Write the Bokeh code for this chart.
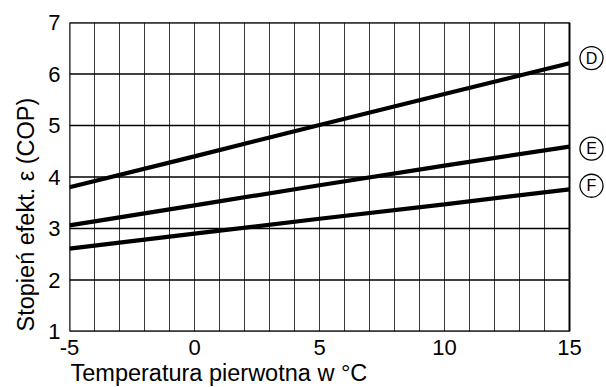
from bokeh.plotting import figure
from bokeh.models import Range1d, FixedTicker, Title
from bokeh.embed import file_html
from bokeh.resources import INLINE
from bokeh.core.properties import value

# ---- data ----
temps = [-5, 0, 5, 10, 15]
cop_D = [3.80, 4.40, 5.01, 5.61, 6.21]
cop_E = [3.06, 3.45, 3.84, 4.22, 4.59]
cop_F = [2.61, 2.90, 3.19, 3.47, 3.76]
curve_names = ["D", "E", "F"]
curve_label_y = [6.31, 4.55, 3.83]
x_ticks = [-5, 0, 5, 10, 15]
y_ticks = [1, 2, 3, 4, 5, 6, 7]
x_label = "Temperatura pierwotna w °C"
y_label = "Stopień efekt. ε (COP)"

X_MIN, X_MAX = -5, 15
Y_MIN, Y_MAX = 1, 7
FONT = "Liberation Sans"

p = figure(width=606, height=387, output_backend="svg", toolbar_location=None,
           x_range=Range1d(X_MIN, 16.48), y_range=Range1d(Y_MIN, Y_MAX),
           min_border_left=69, min_border_right=0, min_border_top=22,
           min_border_bottom=56)
p.outline_line_color = None
p.xgrid.visible = False
p.ygrid.visible = False
p.background_fill_color = "white"
p.border_fill_color = "white"

for ax, ticks in ((p.xaxis[0], x_ticks), (p.yaxis[0], y_ticks)):
    ax.ticker = FixedTicker(ticks=ticks)
    ax.axis_line_color = None
    ax.major_tick_line_color = None
    ax.minor_tick_line_color = None
    ax.major_tick_out = 0
    ax.major_tick_in = 0
    ax.major_label_text_font = FONT
    ax.major_label_text_font_size = "22px"
    ax.major_label_text_color = "black"

p.xaxis.major_label_overrides = {t: str(t) for t in x_ticks}
p.xaxis.major_label_standoff = 8
p.yaxis.major_label_standoff = 9

# axis titles as side-panel titles (left aligned along the axis)
p.add_layout(Title(text=x_label, align="left", text_font=FONT,
                   text_font_size="23.5px", text_font_style="normal",
                   text_color="black", standoff=0, offset=1), "below")
p.add_layout(Title(text=y_label, align="left", text_font=FONT,
                   text_font_size="23.5px", text_font_style="normal",
                   text_color="black", standoff=13, offset=0), "left")

# grid
vx = list(range(X_MIN, X_MAX + 1))
p.segment(x0=vx, y0=[Y_MIN] * len(vx), x1=vx, y1=[Y_MAX] * len(vx),
          line_color="#3a3a3a", line_width=1)
hy = list(range(Y_MIN, Y_MAX + 1))
p.segment(x0=[X_MIN] * len(hy), y0=hy, x1=[X_MAX] * len(hy), y1=hy,
          line_color="black", line_width=1.4)
p.quad(left=[X_MIN], right=[X_MAX], bottom=[Y_MIN], top=[Y_MAX],
       fill_color=None, line_color="black", line_width=2)

# curves
for ys in (cop_D, cop_E, cop_F):
    p.line(temps, ys, line_color="black", line_width=4.2)

# circled labels
lx = [15.88] * len(curve_names)
p.scatter(x=lx, y=curve_label_y, marker="circle", size=23,
          fill_color="white", line_color="black", line_width=1.3)
p.text(x=lx, y=curve_label_y, text=curve_names, text_align="center",
       text_baseline="middle", text_font=value(FONT), text_font_size="16px",
       text_color="black")

open("out.html", "w").write(file_html(p, INLINE))
